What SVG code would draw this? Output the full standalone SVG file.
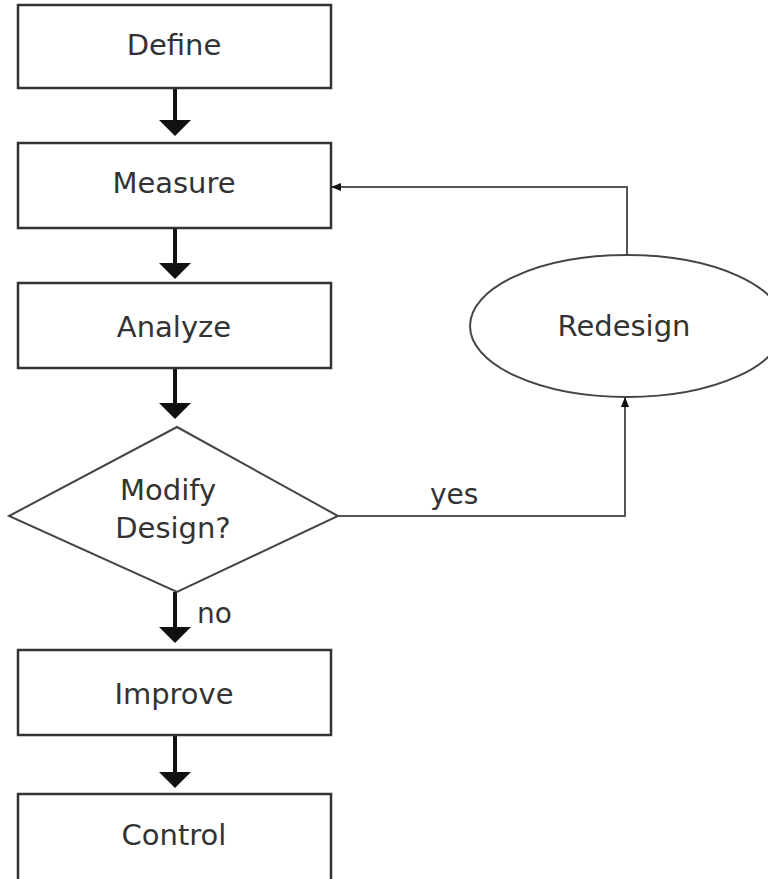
<svg xmlns="http://www.w3.org/2000/svg" width="768" height="879" viewBox="0 0 768 879">
<style>
.box{fill:#fff;stroke:#333;stroke-width:2.5}
.shape{fill:#fff;stroke:#444;stroke-width:2}
.lbl{font-family:"DejaVu Sans",Verdana,sans-serif;font-size:29px;fill:#333;text-anchor:middle}
.small{font-family:"DejaVu Sans",Verdana,sans-serif;font-size:28px;fill:#333}
.thick{stroke:#111;stroke-width:4;fill:none}
.thin{stroke:#555;stroke-width:2;fill:none}
</style>
<defs>
<marker id="big" viewBox="0 0 16 32" refX="0" refY="16" markerWidth="16" markerHeight="32" markerUnits="userSpaceOnUse" orient="auto">
<path d="M0,0 L16,16 L0,32 Z" fill="#111"/>
</marker>
<marker id="sm" viewBox="0 0 10 10" refX="10" refY="5" markerWidth="10" markerHeight="10" markerUnits="userSpaceOnUse" orient="auto">
<path d="M0,1 L10,5 L0,9 Z" fill="#111"/>
</marker>
</defs>
<rect width="768" height="879" fill="#fff"/>
<g id="connectors">
<line class="thick" x1="175" y1="88" x2="175" y2="120" marker-end="url(#big)"/>
<line class="thick" x1="175" y1="228" x2="175" y2="263" marker-end="url(#big)"/>
<line class="thick" x1="175" y1="368" x2="175" y2="403" marker-end="url(#big)"/>
<line class="thick" x1="175" y1="592" x2="175" y2="627" marker-end="url(#big)"/>
<line class="thick" x1="175" y1="735" x2="175" y2="772" marker-end="url(#big)"/>
<polyline class="thin" points="627,255 627,187 331,187" marker-end="url(#sm)"/>
<polyline class="thin" points="338,516 625,516 625,397" marker-end="url(#sm)"/>
<text class="small" x="430" y="504">yes</text>
<text class="small" x="197" y="623">no</text>
</g>
<g id="define">
<rect class="box" x="18" y="5" width="313" height="83"/>
<text class="lbl" x="174" y="55">Define</text>
</g>
<g id="measure">
<rect class="box" x="18" y="143" width="313" height="85"/>
<text class="lbl" x="174" y="193">Measure</text>
</g>
<g id="analyze">
<rect class="box" x="18" y="283" width="313" height="85"/>
<text class="lbl" x="174" y="337">Analyze</text>
</g>
<g id="decision">
<polygon class="shape" points="177,427 338,516 177,592 9,516"/>
<text class="lbl" x="168" y="500">Modify</text>
<text class="lbl" x="173" y="538">Design?</text>
</g>
<g id="redesign">
<ellipse class="shape" cx="627" cy="326" rx="157" ry="71" stroke-width="1.6"/>
<text class="lbl" x="624" y="336">Redesign</text>
</g>
<g id="improve">
<rect class="box" x="18" y="650" width="313" height="85"/>
<text class="lbl" x="174" y="704">Improve</text>
</g>
<g id="control">
<rect class="box" x="18" y="794" width="313" height="100"/>
<text class="lbl" x="174" y="845">Control</text>
</g>
</svg>
